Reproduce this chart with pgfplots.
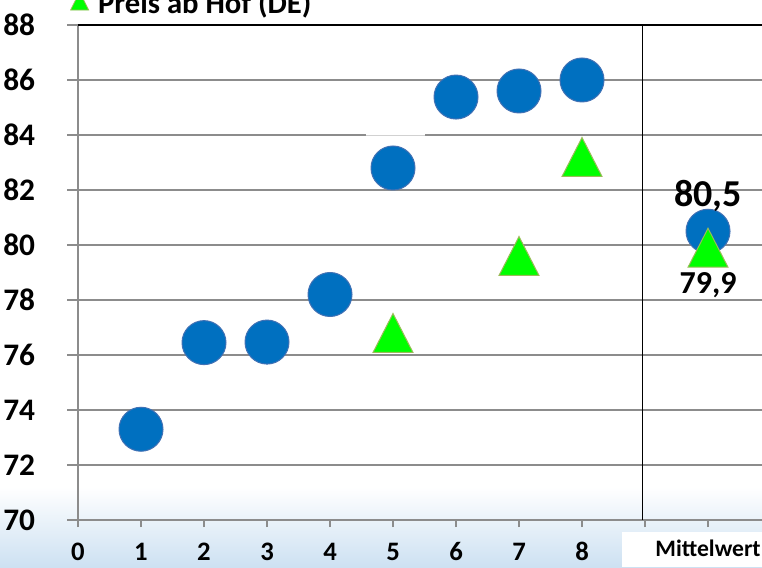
\documentclass[border=0pt]{standalone}
\usepackage{fontspec}
\setmainfont{Carlito}
\usepackage{pgfplots}
\pgfplotsset{compat=1.18}
\definecolor{dotblue}{RGB}{0,112,192}
\definecolor{dotedge}{RGB}{65,113,180}
\definecolor{trigreen}{RGB}{0,255,0}
\definecolor{triedge}{RGB}{155,187,89}
\definecolor{gridgray}{RGB}{140,140,140}
\definecolor{bgblue}{RGB}{205,225,242}
\newcommand{\xl}[1]{\bfseries\fontsize{20}{20}\selectfont #1}
\begin{document}
\begin{tikzpicture}
\useasboundingbox (0pt,0pt) rectangle (571.5pt,425.25pt);
\clip (0pt,0pt) rectangle (571.5pt,425.25pt);
\shade[top color=white,bottom color=bgblue] (0pt,0pt) rectangle (571.5pt,60pt);
\fill[white] (466.5pt,0pt) rectangle (571.5pt,26.25pt);
\begin{axis}[
  at={(58.5pt,35.25pt)}, anchor=south west,
  scale only axis, width=513pt, height=371.25pt,
  xmin=0, xmax=10.857, ymin=70, ymax=88,
  axis x line*=bottom, axis y line*=left,
  axis line style={gridgray, line width=1pt, -},
  tick align=outside,
  xtick={0,...,10},
  xticklabels={{\xl{0}},{\xl{1}},{\xl{2}},{\xl{3}},{\xl{4}},{\xl{5}},{\xl{6}},{\xl{7}},{\xl{8}},{},{\raisebox{3pt}{\bfseries\fontsize{17.7}{18}\selectfont Mittelwert}}},
  ytick={70,72,...,88},
  ymajorgrids, major grid style={gridgray, line width=1pt},
  tick style={gridgray, line width=1pt},
  xtick style={/pgfplots/major tick length=5.25pt},
  ytick style={/pgfplots/major tick length=8.25pt},
  /pgf/number format/assume math mode=true,
  yticklabel style={font=\bfseries\fontsize{23.5}{24}\selectfont, anchor=east, inner sep=0pt, xshift=-27.75pt, text=black},
  xticklabel style={anchor=base, inner sep=0pt, yshift=-26.25pt, text=black},
  legend style={at={(0,1)}, anchor=south west, xshift=-6pt, yshift=6.75pt,
    draw=none, fill=none, inner sep=0pt, nodes={inner sep=0pt},
    column sep=6.75pt, font=\bfseries\fontsize{23}{24}\selectfont},
]
% small gap in the 84 gridline
\fill[white] (axis cs:4.57,83.93) rectangle (axis cs:5.51,84.07);
\draw[gridgray!40, line width=0.4pt] (axis cs:4.57,84) -- (axis cs:5.51,84);

\addlegendimage{legend image code/.code={\fill[trigreen, draw=triedge, line width=0.6pt] (0pt,-5pt) -- (13.5pt,-5pt) -- (6.75pt,8.5pt) -- cycle;}}
\addlegendentry{Preis ab Hof (DE)}

\addplot[forget plot, only marks, mark=*, mark size=16.5pt,
  mark options={fill=dotblue, draw=dotedge, line width=0.75pt}]
  coordinates {(1,73.3) (2,76.45) (3,76.47) (4,78.2) (5,82.8) (6,85.38) (7,85.6) (8,86.0)};

\addplot[forget plot, only marks, mark=*, mark size=16.5pt,
  mark options={fill=dotblue, draw=dotedge, line width=0.75pt},
  nodes near coords, point meta=explicit symbolic,
  every node near coord/.append style={anchor=base, yshift=18.75pt, inner sep=0pt, text=black,
    font=\bfseries\fontsize{28.5}{29}\selectfont}]
  coordinates {(10,80.5) [{80,5}]};

\addplot[forget plot, only marks, mark=triangle*, mark size=17.3pt,
  mark options={yshift=-4.875pt, yscale=1.125, fill=trigreen, draw=triedge, line width=0.75pt}]
  coordinates {(5,76.8) (7,79.6) (8,83.2)};

\addplot[forget plot, only marks, mark=triangle*, mark size=17.3pt,
  mark options={yshift=-4.875pt, yscale=1.125, fill=trigreen, draw=triedge, line width=0.75pt},
  nodes near coords, point meta=explicit symbolic,
  every node near coord/.append style={anchor=base, yshift=-29.8pt, inner sep=0pt, text=black,
    font=\bfseries\fontsize{24}{25}\selectfont}]
  coordinates {(10,79.9) [{79,9}]};

\draw[black, line width=1.2pt] ([xshift=-8.25pt]rel axis cs:0,1) -- (rel axis cs:1,1);
\draw[black, line width=0.9pt] (axis cs:8.96,70) -- (axis cs:8.96,88);
\end{axis}
\end{tikzpicture}
\end{document}
